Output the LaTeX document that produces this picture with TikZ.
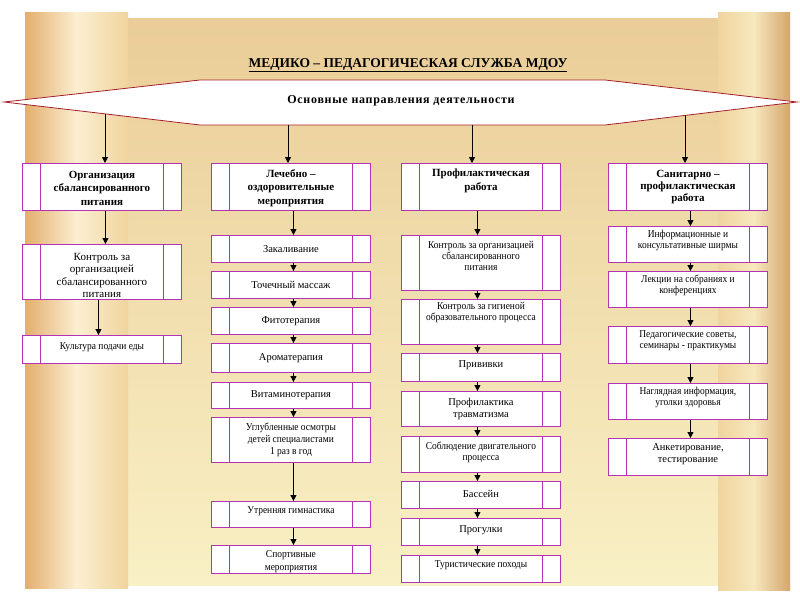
\documentclass[tikz,border=0pt]{standalone}
\usepackage{fontspec}
\setmainfont{Liberation Serif}
\newfontfamily\cnd[FakeStretch=0.9]{Liberation Serif}
\newfontfamily\spc[LetterSpace=6]{Liberation Serif}
\usetikzlibrary{arrows.meta,calc}
\definecolor{boxc}{RGB}{180,50,180}
\definecolor{banc}{RGB}{165,30,40}
\definecolor{parchA}{HTML}{EACD98}
\definecolor{parchB}{HTML}{F9F0C5}
\definecolor{rollA}{HTML}{E3AE6E}
\definecolor{rollB}{HTML}{FCEFD2}
\definecolor{rollC}{HTML}{F0D49E}
\definecolor{rollD}{HTML}{D4A56C}
\definecolor{rollE}{HTML}{F7E8BE}
\newcommand{\bx}[4]{\node[box, minimum height=#4pt] (#1) at (#2,#3) {};}
\begin{document}
\begin{tikzpicture}[x=1pt,y=-1pt,
  box/.style={draw=boxc, line width=0.9pt, fill=white, minimum width=159pt, inner sep=0pt, anchor=north west,
    path picture={\draw[boxc,line width=0.9pt]
      ([xshift=18pt]path picture bounding box.north west) -- ([xshift=18pt]path picture bounding box.south west)
      ([xshift=-18pt]path picture bounding box.north east) -- ([xshift=-18pt]path picture bounding box.south east);}},
  arr/.style={draw=black, line width=0.8pt, -{Triangle[width=6pt,length=6pt]}},
  hd/.style={font=\bfseries\fontsize{11}{13.5}\selectfont, align=center, inner sep=0pt},
  rg/.style={font=\fontsize{10.5}{12.5}\selectfont, align=center, inner sep=0pt},
  cn/.style={font=\cnd\fontsize{10.5}{11}\selectfont, align=center, inner sep=0pt}]
\useasboundingbox (0,0) rectangle (800,600);
% background scroll
\fill[white] (0,0) rectangle (800,600);
\shade[top color=parchA, bottom color=parchB] (40,18) rectangle (775,585);
\shade[left color=rollA, right color=rollC, middle color=rollB] (25,12) rectangle (128,588);
\shade[left color=rollC, right color=rollD, middle color=rollE] (718,12) rectangle (790,590);
% title
\node[font=\bfseries\fontsize{13.5}{15}\selectfont, inner sep=0pt] (title) at (408,65) {\underline{МЕДИКО – ПЕДАГОГИЧЕСКАЯ СЛУЖБА МДОУ}};
% banner
\draw[banc, line width=0.8pt, fill=white] (4,102) -- (200,80) -- (605,80) -- (797,102) -- (605,125) -- (200,125) -- cycle;
\node[font=\spc\bfseries\fontsize{12}{13}\selectfont, inner sep=0pt] (ban) at (401,101) {Основные направления деятельности};
\coordinate (b1) at (105,113.8);
\coordinate (b2) at (288,125);
\coordinate (b3) at (472,125);
\coordinate (b4) at (685,115.4);
% column 1
\bx{c1h}{22}{163}{47}
\bx{c1a}{22}{244}{55}
\bx{c1b}{22}{335}{28}
% column 2
\bx{c2h}{211}{163}{47}
\bx{c2a}{211}{235}{27}
\bx{c2b}{211}{271}{27}
\bx{c2c}{211}{307}{27}
\bx{c2d}{211}{343}{29}
\bx{c2e}{211}{382}{26}
\bx{c2f}{211}{417}{45}
\bx{c2g}{211}{501}{26}
\bx{c2i}{211}{545}{28}
% column 3
\bx{c3h}{401}{163}{47}
\bx{c3a}{401}{235}{55}
\bx{c3b}{401}{299}{45}
\bx{c3c}{401}{353}{28}
\bx{c3d}{401}{391}{35}
\bx{c3e}{401}{436}{36}
\bx{c3f}{401}{481}{27}
\bx{c3g}{401}{518}{27}
\bx{c3i}{401}{555}{27}
% column 4
\bx{c4h}{608}{163}{47}
\bx{c4a}{608}{226}{36}
\bx{c4b}{608}{271}{36}
\bx{c4c}{608}{326}{37}
\bx{c4d}{608}{383}{36}
\bx{c4e}{608}{438}{37}
% texts column 1
\node[hd] at ([yshift=-1pt]c1h.center) {Организация\\сбалансированного\\питания};
\node[rg, font=\fontsize{11}{12.3}\selectfont, anchor=north] at ([yshift=-9pt]c1a.north) {Контроль за\\организацией\\сбалансированного\\питания};
\node[cn] at ([yshift=2pt]c1b.center) {Культура подачи еды};
% texts column 2
\node[hd] at ([yshift=-1pt]c2h.center) {Лечебно –\\оздоровительные\\мероприятия};
\node[rg] at (c2a) {Закаливание};
\node[rg] at (c2b) {Точечный массаж};
\node[rg] at (c2c) {Фитотерапия};
\node[rg] at (c2d) {Ароматерапия};
\node[rg] at (c2e) {Витаминотерапия};
\node[cn, font=\cnd\fontsize{10.5}{12}\selectfont] at (c2f) {Углубленные осмотры\\детей специалистами\\1 раз в год};
\node[cn] at ([yshift=3pt]c2g.center) {Утренняя гимнастика};
\node[cn, font=\cnd\fontsize{10.5}{12.5}\selectfont] at ([yshift=-2pt]c2i.center) {Спортивные\\мероприятия};
% texts column 3
\node[hd, font=\bfseries\fontsize{11}{14}\selectfont, anchor=north] at ([yshift=-6pt]c3h.north) {Профилактическая\\работа};
\node[cn, anchor=north] at ([yshift=-6pt]c3a.north) {Контроль за организацией\\сбалансированного\\питания};
\node[cn, anchor=north] at ([yshift=-3pt]c3b.north) {Контроль за гигиеной\\образовательного процесса};
\node[rg] at ([yshift=2pt]c3c.center) {Прививки};
\node[rg] at (c3d) {Профилактика\\травматизма};
\node[cn] at ([yshift=2pt]c3e.center) {Соблюдение двигательного\\процесса};
\node[rg] at ([yshift=1pt]c3f.center) {Бассейн};
\node[rg] at ([yshift=2pt]c3g.center) {Прогулки};
\node[cn] at ([yshift=4pt]c3i.center) {Туристические походы};
% texts column 4
\node[hd, font=\bfseries\fontsize{11}{12}\selectfont] at (c4h) {Санитарно –\\профилактическая\\работа};
\node[cn] at ([yshift=4pt]c4a.center) {Информационные и\\консультативные ширмы};
\node[cn] at ([yshift=4pt]c4b.center) {Лекции на собраниях и\\конференциях};
\node[cn] at ([yshift=4pt]c4c.center) {Педагогические советы,\\семинары - практикумы};
\node[cn] at ([yshift=4pt]c4d.center) {Наглядная информация,\\уголки здоровья};
\node[rg] at ([yshift=3pt]c4e.center) {Анкетирование,\\тестирование};
% connectors
\draw[arr] (b1) -- (b1 |- c1h.north);
\draw[arr] (b2) -- (b2 |- c2h.north);
\draw[arr] (b3) -- (b3 |- c3h.north);
\draw[arr] (b4) -- (b4 |- c4h.north);
\draw[arr] ([xshift=3.5pt]c1h.south) -- ([xshift=3.5pt]c1a.north);
\draw[arr] ([xshift=-3.5pt]c1a.south) -- ([xshift=-3.5pt]c1b.north);
\foreach \a/\b in {c2h/c2a,c2a/c2b,c2b/c2c,c2c/c2d,c2d/c2e,c2e/c2f,c2f/c2g,c2g/c2i}
  \draw[arr] ([xshift=2.5pt]\a.south) -- ([xshift=2.5pt]\b.north);
\foreach \a/\b in {c3h/c3a,c3a/c3b,c3b/c3c,c3c/c3d,c3d/c3e,c3e/c3f,c3f/c3g,c3g/c3i}
  \draw[arr] ([xshift=-3.5pt]\a.south) -- ([xshift=-3.5pt]\b.north);
\foreach \a/\b in {c4h/c4a,c4a/c4b,c4b/c4c,c4c/c4d,c4d/c4e}
  \draw[arr] ([xshift=2.5pt]\a.south) -- ([xshift=2.5pt]\b.north);
\end{tikzpicture}
\end{document}
